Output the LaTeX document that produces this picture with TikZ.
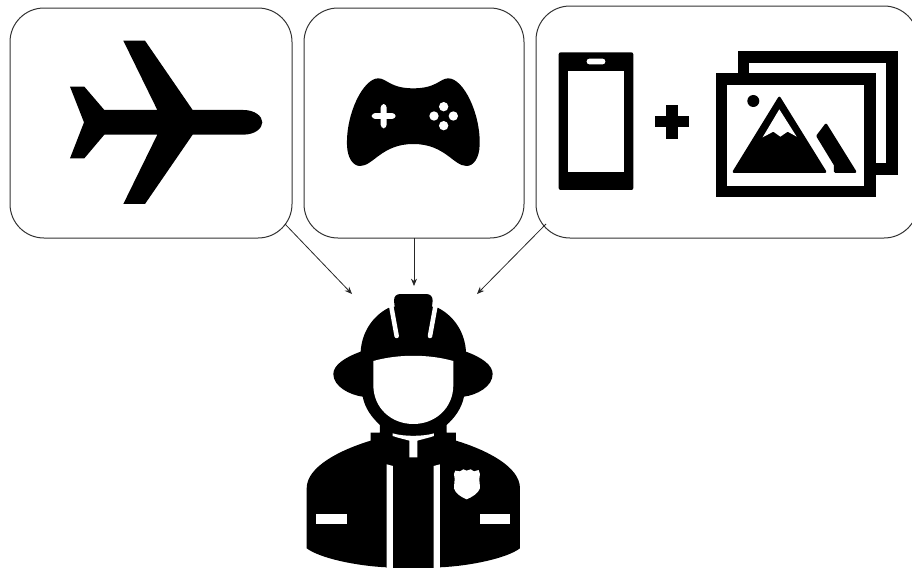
\documentclass[tikz,border=0pt]{standalone}
\usetikzlibrary{arrows.meta}
\tikzset{
  panel/.style={draw=black!80, fill=white, rectangle, rounded corners=25.5pt, line width=0.75pt, inner sep=0pt, outer sep=0pt},
  link/.style={draw=black!85, line width=0.6pt, -{Stealth[length=5.5pt,width=4.5pt]}},
  solid/.style={fill=black, draw=none},
  hole/.style={fill=white, draw=none}
}
\begin{document}
\begin{tikzpicture}[x=0.75pt, y=-0.75pt]
  \useasboundingbox (0,0) rectangle (912,568);
  \begin{scope}
    \clip (0,0) rectangle (912,568);
    \node[panel, minimum width=211.5pt, minimum height=172.5pt] (b1) at (151,123) {};
    \node[panel, minimum width=165pt, minimum height=172.5pt] (b2) at (414,123) {};
    \node[panel, minimum width=286.5pt, minimum height=174pt] (b3) at (727,122) {};
  \end{scope}
  \coordinate (s1) at (285,224);
  \coordinate (s3) at (546,224);
  \coordinate (f1) at (352,294);
  \coordinate (f2) at (414,286);
  \coordinate (f3) at (477,294);
  \draw[link] (s1) -- (f1);
  \draw[link] (b2.south) -- (f2);
  \draw[link] (s3) -- (f3);
  % plane
  \begin{scope}[shift={(50,30)}, scale=0.3333]
    \fill[solid] (163,240) -- (103,170) -- (60,170) -- (102,277) -- (60,385) -- (103,385) -- (163,314)
      -- (322,314) -- (220,522) -- (285,522) -- (428,314) -- (580,314)
      .. controls (615,314) and (637,295) .. (637,277) .. controls (637,259) and (615,240) .. (580,240)
      -- (428,240) -- (285,32) -- (220,32) -- (322,240) -- cycle;
  \end{scope}
  % gamepad
  \begin{scope}[shift={(330,70)}, scale=0.3333]
    \fill[solid] (145,25) .. controls (170,25) and (180,55) .. (250,55)
      .. controls (320,55) and (330,25) .. (355,25)
      .. controls (400,25) and (452,130) .. (449,225)
      .. controls (448,265) and (430,288) .. (410,288)
      .. controls (370,288) and (345,222) .. (250,222)
      .. controls (155,222) and (130,288) .. (90,288)
      .. controls (70,288) and (52,265) .. (51,225)
      .. controls (48,130) and (100,25) .. (145,25) -- cycle;
    \fill[hole, rounded corners=2.7pt] (125,129) rectangle (197,147);
    \fill[hole, rounded corners=2.7pt] (152,102) rectangle (170,175);
    \foreach \bx/\by in {341/110,341/167,312/138,370/138} {
      \fill[hole] (\bx,\by) circle (14);
    }
  \end{scope}
  % phone, plus and pictures
  \begin{scope}[shift={(536,0)}, scale=0.3333]
    \fill[solid, rounded corners=1.5pt] (68,157) rectangle (292,570);
    \fill[hole] (95,213) rectangle (265,515);
    \fill[hole, rounded corners=2pt] (152,176) rectangle (208,193);
    \fill[solid] (390,316) rectangle (425,416);
    \fill[solid] (356,348) rectangle (458,382);
    \fill[solid] (605,153) rectangle (1086,525);
    \fill[hole] (640,188) rectangle (1050,490);
    \fill[solid] (539,219) rectangle (1020,592);
    \fill[hole] (573,254) rectangle (984,557);
    \fill[solid] (652,303) circle (18);
    \filldraw[line width=2pt, line join=round] (730,294) -- (594,515) -- (867,515) -- cycle;
    \fill[hole] (730,328) -- (680,412) -- (712,395) -- (733,410) -- (755,395) -- (782,410) -- cycle;
    \filldraw[line width=2pt, line join=round] (870,375) -- (845,408) -- (898,495) -- (898,515) -- (957,515) -- cycle;
  \end{scope}
  % firefighter
  \begin{scope}[shift={(300,280)}, scale=0.3333]
    \fill[solid] (282,62) .. controls (282,48) and (290,42) .. (302,42) -- (378,42)
      .. controls (390,42) and (398,48) .. (398,62) -- (396,80) -- (415,84)
      .. controls (465,110) and (495,160) .. (498,215)
      .. controls (545,232) and (578,255) .. (578,282)
      .. controls (578,320) and (530,345) .. (492,350)
      .. controls (485,385) and (465,412) .. (440,435) -- (440,458) -- (468,458) -- (468,482)
      .. controls (560,510) and (660,560) .. (660,625) -- (660,805)
      .. controls (620,835) and (510,858) .. (420,862) -- (420,864) -- (260,864) -- (260,862)
      .. controls (170,858) and (60,835) .. (20,805) -- (20,625)
      .. controls (20,560) and (120,510) .. (212,482) -- (212,458) -- (240,458) -- (240,435)
      .. controls (215,412) and (195,385) .. (188,350)
      .. controls (150,345) and (100,320) .. (100,282)
      .. controls (100,255) and (135,232) .. (182,215)
      .. controls (185,160) and (215,110) .. (265,84) -- (284,80) -- cycle;
    % helmet stripes
    \foreach \tx/\bx in {270/290,410/390} {
      \draw[white, line width=3.4pt, line cap=round] (\tx,58) -- (\bx,168);
    }
    % face
    \fill[hole] (220,243) .. controls (295,222) and (385,222) .. (460,243) -- (460,315)
      .. controls (460,385) and (405,432) .. (340,432)
      .. controls (275,432) and (220,385) .. (220,315) -- cycle;
    % collar
    \fill[hole] (278,460) .. controls (310,470) and (370,470) .. (402,460) -- (402,468)
      .. controls (385,474) and (365,478) .. (352,482) -- (352,532) -- (328,532) -- (328,482)
      .. controls (315,478) and (295,474) .. (278,468) -- cycle;
    % jacket
    \fill[hole] (260,553) -- (279,558) -- (279,864) -- (260,864) -- cycle;
    \fill[hole] (420,553) -- (401,558) -- (401,864) -- (420,864) -- cycle;
    \foreach \px in {49,539} {
      \fill[hole] (\px,702) rectangle ++(91,30);
    }
    % badge
    \fill[hole] (466,572) -- (480,574) -- (490,568) -- (500,572) -- (512,568) -- (522,574) -- (536,570)
      -- (540,582) .. controls (536,600) and (540,610) .. (540,625)
      .. controls (535,640) and (515,652) .. (500,658)
      .. controls (485,652) and (465,640) .. (462,625)
      .. controls (462,610) and (466,600) .. (462,582) -- cycle;
  \end{scope}
\end{tikzpicture}
\end{document}
